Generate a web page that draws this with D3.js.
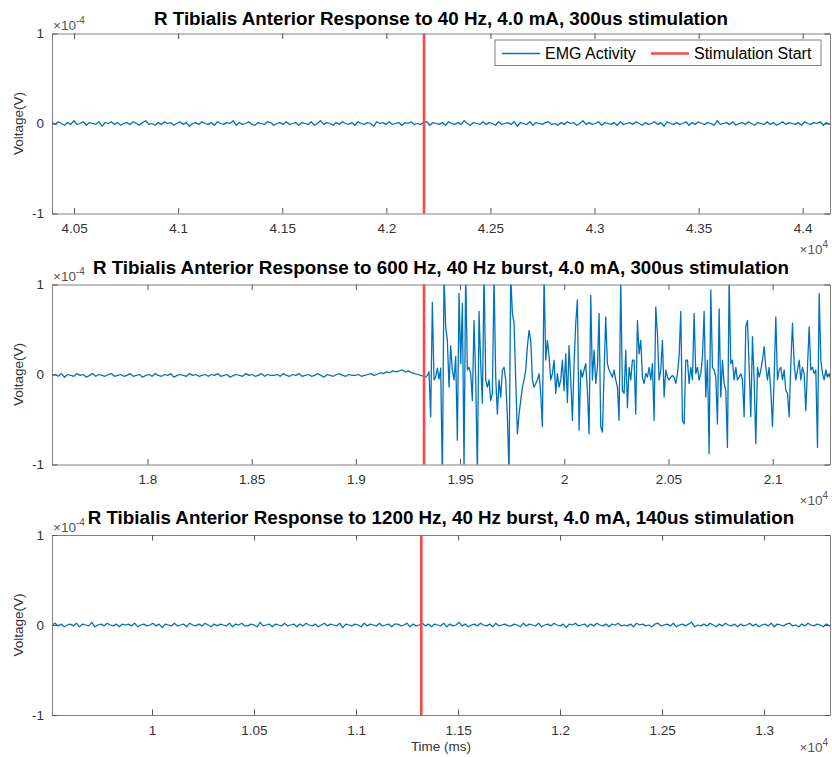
<!DOCTYPE html>
<html>
<head>
<meta charset="utf-8">
<script src="https://cdn.jsdelivr.net/npm/d3@7"></script>
<style>
body { margin: 0; background: #fff; }
text { font-family: "Liberation Sans", Arial, sans-serif; }
</style>
</head>
<body>
<svg id="chart" width="832" height="757"></svg>
<script>
// panel titles, top to bottom
const titles = [
    "R Tibialis Anterior Response to 40 Hz, 4.0 mA, 300us stimulation",
    "R Tibialis Anterior Response to 600 Hz, 40 Hz burst, 4.0 mA, 300us stimulation",
    "R Tibialis Anterior Response to 1200 Hz, 40 Hz burst, 4.0 mA, 140us stimulation"
];

// x limits of each panel (ms)
const xLimits = [[40394, 44131], [17542, 21275], [9510, 13323]];

// x tick values (ms), shown as value / 1e4
const xTicks = [
    [40500, 41000, 41500, 42000, 42500, 43000, 43500, 44000],
    [18000, 18500, 19000, 19500, 20000, 20500, 21000],
    [10000, 10500, 11000, 11500, 12000, 12500, 13000]
];

// y ticks in microvolts, labels in units of 1e-4 V
const yTicks = [-100, 0, 100];
const yTickLabels = ["-1", "0", "1"];

// stimulation start time of each panel (ms)
const stimTimes = [42181, 19327, 11320];

// time of the first sample of each recording (ms) and sample steps
const signalStart = [40394, 17542, 9510];
const baselineStep = 15;
const burstStep = 8;

// EMG baseline of the 40 Hz run (uV)
const topNoise = [
    1,-1,2,0,-2,1,-1,3,-1,0,2,-2,1,0,-1,2,-3,1,0,2,-1,1,-2,0,1,
    -1,2,0,-2,1,3,-1,0,-2,1,-1,2,0,1,-2,0,2,-1,1,-3,0,1,-1,2,0,
    -1,1,-2,2,0,-1,1,0,3,-2,1,-1,0,2,-1,-2,1,0,-1,2,1,-2,0,1,-1,
    2,-1,0,1,-2,1,0,-1,2,-2,0,3,-1,1,0,-2,1,-1,2,0,-1,1,-2,2,0,
    -1,1,0,-3,2,0,1,-1,2,-1,0,1,-2,1,0,2,-1,0,-1,1,2,-2,1,0,-1,
    1,-2,2,0,-1,1,-1,3,0,-2,1,0,-1,2,-1,1,0,-2,2,-1,0,1,-1,2,-3,
    1,0,-1,2,-2,1,0,-1,1,2,-1,0,-2,1,-1,2,0,1,-2,0,3,-1,1,-1,0,
    2,-2,1,0,-1,1,-2,2,-1,0,1,-1,2,0,-2,1,-1,0,2,-1,1,-3,2,0,-1,
    1,-1,0,2,-2,1,-1,2,0,-1,1,0,-2,3,-1,0,1,-1,2,-2,0,1,-1,2,0,
    -2,1,0,-1,2,-1,1,-2,0,2,-1,1,0,-1,1,-2,2,0,-1,1,0,2,-2,1,-1
];

// EMG of the 600 Hz run before the stimulation (uV)
const midBaseline = [
    -1,0,-2,1,-3,0,-1,-2,1,-1,0,-3,-1,1,-2,0,-1,-2,0,1,-2,-1,0,-2,-1,
    1,-2,-1,0,-3,-1,0,-2,1,-1,-2,0,-1,1,-3,-1,0,-1,-2,1,-1,0,-2,-1,0,
    -2,0,-1,1,-2,-1,0,-3,-1,0,-1,-2,1,-1,0,-2,-1,1,-2,0,-1,-1,0,-2,1,
    -1,-2,0,-1,1,-2,-1,0,-2,-1,1,-1,-3,0,-1,-2,0,1,-1,-2,0,-1,-1,0,-2,
    -1,0,1,-1,0,2,1,3,2,4,3,4,5,3,4,2,1,0,-1,-2
];

// EMG of the 600 Hz run from the stimulation on (uV)
const midBurst = [
    -3,-3,-1,3,-47,80,-6,-3,7,-5,7,-115,110,53,38,-14,32,5,-6,20,-73,90,12,79,-105,
    115,5,8,1,-29,60,-6,-110,70,12,-32,115,-6,-14,-6,-29,-21,110,-3,-44,-6,-25,5,8,-6,
    -47,-110,110,68,57,-6,-66,-44,-29,-14,-6,5,31,49,38,-6,-14,-10,-6,1,-21,-58,110,16,38,
    20,-6,1,16,-21,1,-14,
    -6,16,-18,23,-31,32,-6,-51,12,57,83,-62,5,-3,5,12,-18,-66,88,-6,27,-10,8,68,-58,
    -64,1,64,12,5,1,-3,5,-6,-14,-51,105,-18,-21,27,-37,8,-6,16,16,-44,60,23,38,-3,
    -10,1,-3,8,-6,12,-51,75,45,-6,5,38,-25,5,-3,-6,-3,-1,-3,-10,1,20,70,-51,-55,16,16,-10,8,-6,
    68,1,8,-6,1,20,70,-25,16,-88,94,8,5,-3,-55,73,-25,16,-10,-18,-81,105,12,16,-6,
    8,-6,-3,1,-6,-47,53,60,8,-47,42,-6,-77,8,-3,5,16,31,8,-6,8,-18,-58,-3,64,
    -6,5,8,-6,5,-18,-21,-47,12,57,12,-6,5,16,-6,8,1,-40,8,53,5,8,1,5,-81,
    90,16,1,-6,5,-3,1,-6
];

// EMG baseline of the 1200 Hz run (uV)
const bottomNoise = [
    0,2,-1,1,-2,0,1,-1,2,-2,1,0,-1,3,-2,0,1,-1,2,0,-1,1,-2,1,0,
    1,-1,2,-2,0,1,-1,0,2,-1,1,-3,1,0,-1,2,-1,0,1,-2,2,0,-1,1,-1,
    2,0,-2,1,-1,1,0,-1,2,-2,1,0,2,-1,-1,1,0,-2,3,-1,0,1,-2,1,0,
    -1,2,-1,0,1,-2,1,-1,2,0,-1,1,-2,0,2,-1,1,0,-1,2,-3,1,0,-1,1,
    0,-2,2,-1,1,0,-1,2,-1,0,1,-2,1,1,-1,0,2,-2,1,-1,0,2,-1,1,-2,
    1,0,-1,2,-2,1,-1,0,3,-1,1,-2,0,1,-1,2,0,-1,1,-2,2,-1,0,1,-1,
    -1,1,0,-2,2,-1,1,0,-1,2,-2,0,1,-1,2,0,-1,1,-3,1,0,2,-1,0,1,
    -2,1,-1,2,0,-1,1,-2,1,0,2,-1,0,-1,1,-2,2,0,1,-1,0,-2,1,2,-1,
    0,1,-1,2,-2,0,1,-1,1,3,-2,0,-1,1,-1,2,0,-2,1,-1,2,0,-1,1,-2,
    1,-1,0,2,-1,1,-2,0,1,-1,2,-2,1,0,-1,1,2,-1,0,-2,1,-1,2,0,-1,
    1,0,-2,1,-1,0
];

const emgColor = "#0072bd";
const stimColor = "#ff4545";
const axisColor = "#808080";
const textColor = "#333";

// geometry of the figure
const plotLeft = 52;
const plotRight = 830;
const plotHeight = 180;
const panelTops = [33.5, 284.5, 535];
const titleBaselines = [25, 273.5, 523.5];
const xExpOffsets = [40, 40, 37];

const svg = d3.select("#chart");
svg.append("rect").attr("width", 832).attr("height", 757).attr("fill", "#fff");

//turn a list of samples into time/value pairs
function toSeries(values, start, step) {
    return values.map((v, i) => ({ t: start + i * step, v: v }));
}

const series = [
    toSeries(topNoise, signalStart[0], baselineStep),
    toSeries(midBaseline, signalStart[1], baselineStep).concat(toSeries(midBurst, stimTimes[1], burstStep)),
    toSeries(bottomNoise, signalStart[2], baselineStep)
];

//style an axis group in the matlab way
function styleAxis(g) {
    g.select(".domain").attr("stroke", axisColor).attr("stroke-width", 1);
    g.selectAll(".tick line").attr("stroke", "#555").attr("stroke-width", 1);
    g.selectAll(".tick text")
        .attr("fill", textColor)
        .style("font-size", "13.5px")
        .style("font-family", "'Liberation Sans', Arial, sans-serif");
}

//draw one panel with its axes, signal and stimulation marker
function drawPanel(i) {
    const top = panelTops[i];
    const width = plotRight - plotLeft;
    const g = svg.append("g").attr("transform", `translate(${plotLeft},${top})`);

    const x = d3.scaleLinear().domain(xLimits[i]).range([0, width]);
    const y = d3.scaleLinear().domain([-100, 100]).range([plotHeight, 0]);

    g.append("clipPath").attr("id", "clip" + i)
        .append("rect").attr("width", width).attr("height", plotHeight);

    const line = d3.line().x(d => x(d.t)).y(d => y(d.v));

    g.append("path")
        .datum(series[i])
        .attr("clip-path", `url(#clip${i})`)
        .attr("fill", "none")
        .attr("stroke", emgColor)
        .attr("stroke-width", 1.3)
        .attr("stroke-linejoin", "round")
        .attr("d", line);

    g.append("line")
        .attr("x1", x(stimTimes[i])).attr("x2", x(stimTimes[i]))
        .attr("y1", 0).attr("y2", plotHeight)
        .attr("stroke", stimColor)
        .attr("stroke-width", 2.6);

    // box axes, ticks point inward
    g.append("g").attr("transform", `translate(0,${plotHeight})`)
        .call(d3.axisBottom(x).tickValues(xTicks[i]).tickSizeInner(-5.5).tickSizeOuter(0).tickPadding(10)
            .tickFormat(d => String(+(d / 1e4).toFixed(2))))
        .call(styleAxis);
    g.append("g")
        .call(d3.axisTop(x).tickValues(xTicks[i]).tickSizeInner(-5.5).tickSizeOuter(0).tickFormat(""))
        .call(styleAxis);
    g.append("g")
        .call(d3.axisLeft(y).tickValues(yTicks).tickSizeInner(-5.5).tickSizeOuter(0).tickPadding(8)
            .tickFormat((d, k) => yTickLabels[k]))
        .call(styleAxis);
    g.append("g").attr("transform", `translate(${width},0)`)
        .call(d3.axisRight(y).tickValues(yTicks).tickSizeInner(-5.5).tickSizeOuter(0).tickFormat(""))
        .call(styleAxis);

    // exponent labels
    const yExp = g.append("text").attr("x", 1).attr("y", -3.5)
        .attr("fill", "#555").style("font-size", "13.5px");
    yExp.append("tspan").text("\u00d710");
    yExp.append("tspan").attr("dy", -6).style("font-size", "10px").text("-4");

    const xExp = g.append("text").attr("x", width - 2).attr("y", plotHeight + xExpOffsets[i])
        .attr("fill", "#555").attr("text-anchor", "end").style("font-size", "13.5px");
    xExp.append("tspan").text("\u00d710");
    xExp.append("tspan").attr("dy", -6).style("font-size", "10px").text("4");

    svg.append("text")
        .attr("x", plotLeft + width / 2).attr("y", titleBaselines[i])
        .attr("text-anchor", "middle")
        .attr("fill", "#000")
        .style("font-size", "18.8px").style("font-weight", "bold")
        .text(titles[i]);

    svg.append("text")
        .attr("transform", `translate(23,${top + plotHeight / 2}) rotate(-90)`)
        .attr("text-anchor", "middle")
        .attr("fill", textColor)
        .style("font-size", "13.5px")
        .text("Voltage(V)");
}

titles.forEach((t, i) => drawPanel(i));

svg.append("text")
    .attr("x", (plotLeft + plotRight) / 2).attr("y", 751)
    .attr("text-anchor", "middle")
    .attr("fill", textColor)
    .style("font-size", "13.5px")
    .text("Time (ms)");

// legend in the first panel
const legend = svg.append("g").attr("transform", "translate(495,40)");
legend.append("rect").attr("width", 326).attr("height", 25.5)
    .attr("fill", "#fff").attr("stroke", axisColor).attr("stroke-width", 1);
const legendItems = [
    { label: "EMG Activity", color: emgColor, width: 1.3, x: 7 },
    { label: "Stimulation Start", color: stimColor, width: 2.6, x: 156 }
];
legendItems.forEach(d => {
    legend.append("line")
        .attr("x1", d.x).attr("x2", d.x + 38).attr("y1", 13.5).attr("y2", 13.5)
        .attr("stroke", d.color).attr("stroke-width", d.width);
    legend.append("text")
        .attr("x", d.x + 43).attr("y", 19)
        .attr("fill", "#000")
        .style("font-size", "16px")
        .text(d.label);
});
</script>
</body>
</html>
